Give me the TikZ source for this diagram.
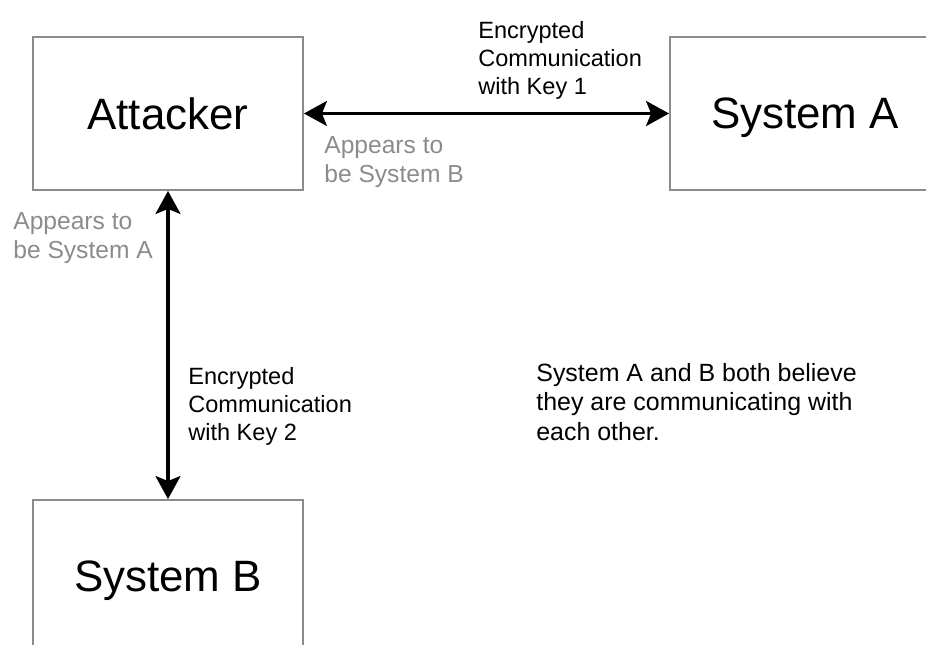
\documentclass[tikz,border=0pt]{standalone}
\usepackage{fontspec}
\setmainfont{Liberation Sans}
\usetikzlibrary{arrows.meta}

\begin{document}
\begin{tikzpicture}[x=0.02cm,y=-0.02cm]
	\tikzset{>={Stealth[length=0.46cm,width=0.5cm,inset=0.1cm]}}
	\tikzset{box/.style={draw=black!45,line width=1.1pt,minimum width=5.4cm,minimum height=3.06cm,text depth=0pt,font=\fontsize{25}{30}\selectfont}}
	\tikzset{lbl/.style={anchor=north west,inner sep=0pt,align=left,font=\fontsize{13.4}{16}\selectfont}}
	\tikzset{ghost/.style={lbl,text=black!45,font=\fontsize{14}{16.5}\selectfont}}

  \clip (0,0) rectangle (926,645);
  \fill[white] (0,0) rectangle (926,645);

  \node[box] (att) at (168,113.5) {Attacker};
  \node[box] (sysa) at (805,113.5) {System A};
  \node[box] (sysb) at (168,576.5) {System B};

	\draw[<->,line width=1.8pt] (att.east) -- (sysa.west);
	\draw[<->,line width=1.8pt] (att.south) -- (sysb.north);

  \node[lbl] (key1) at (478,21) {Encrypted\\Communication\\with Key 1};
  \node[lbl] (key2) at (188,367) {Encrypted\\Communication\\with Key 2};
  \node[ghost] (seemsb) at (324,136) {Appears to\\be System B};
  \node[ghost] (seemsa) at (13,212) {Appears to\\be System A};
  \node[lbl,font=\fontsize{14.2}{16.8}\selectfont] (note) at (536,363) {System A and B both believe\\they are communicating with\\each other.};

\end{tikzpicture}
\end{document}
